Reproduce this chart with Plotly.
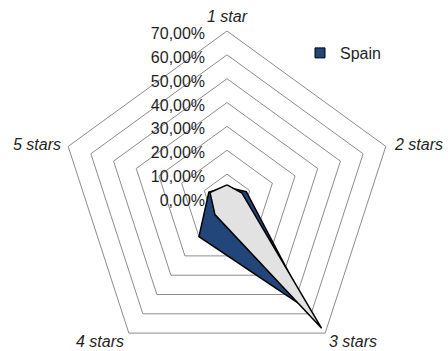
import math
import plotly.graph_objects as go

# ---- data ----
categories = ["1 star", "2 stars", "3 stars", "4 stars", "5 stars"]
spain = [0.045, 0.085, 0.58, 0.20, 0.08]
other = [0.055, 0.066, 0.675, 0.086, 0.075]
radial_ticks = [0.0, 0.1, 0.2, 0.3, 0.4, 0.5, 0.6, 0.7]

# ---- styles ----
BLUE = "#23467a"
GRAY_FILL = "#e2e2e2"
GRID = "#8c8c8c"
TEXT = "#1f1f1f"
FONT = "Liberation Sans, Arial, sans-serif"

W, H = 448, 370
cx, cy, R = 227, 198, 167  # polar centre / outer radius in pixels (from top-left)

fig = go.Figure()
fig.add_trace(go.Scatterpolar(
    r=spain + spain[:1], theta=categories + categories[:1],
    mode="lines", fill="toself", fillcolor=BLUE,
    line=dict(color="black", width=1.5), name="Spain", showlegend=False,
    hoverinfo="skip",
))
fig.add_trace(go.Scatterpolar(
    r=other + other[:1], theta=categories + categories[:1],
    mode="lines", fill="toself", fillcolor=GRAY_FILL,
    line=dict(color="black", width=1.5), name="Other", showlegend=False,
    hoverinfo="skip",
))
# legend entry (square symbol like the reference)
fig.add_trace(go.Scatterpolar(
    r=[None], theta=[None], mode="markers", name="Spain",
    marker=dict(symbol="square", size=10, color=BLUE, line=dict(color="black", width=1)),
    showlegend=True,
))

# category labels placed just outside each outer vertex (Excel-like placement)
annotations = []
n = len(categories)
for i, cat in enumerate(categories):
    th = math.radians(360 * i / n)
    s, c = math.sin(th), math.cos(th)
    vx, vy = cx + R * s, cy - R * c  # vertex in pixels from top-left
    if abs(s) < 0.1:
        xa, dx, dy = "center", 0, -14.5
    elif c > -0.5:  # side labels
        xa = "left" if s > 0 else "right"
        dx, dy = (7 if s > 0 else -6), -1.5
    else:  # bottom labels
        xa = "left" if s > 0 else "right"
        dx, dy = (2.5 if s > 0 else -3.5), 8.5
    annotations.append(dict(
        text=cat, xref="paper", yref="paper",
        x=(vx + dx) / W, y=1 - (vy + dy) / H,
        xanchor=xa, yanchor="middle", showarrow=False, borderpad=0,
        font=dict(family=FONT, size=16, color=TEXT, style="italic"),
    ))

fig.update_layout(
    width=W, height=H,
    margin=dict(l=0, r=0, t=0, b=0),
    paper_bgcolor="white",
    separators=",.",
    font=dict(family=FONT, size=16, color=TEXT),
    annotations=annotations,
    polar=dict(
        domain=dict(x=[(cx - R) / W, (cx + R) / W], y=[(H - cy - R) / H, (H - cy + R) / H]),
        gridshape="linear",
        bgcolor="white",
        angularaxis=dict(
            rotation=90, direction="clockwise", showgrid=False,
            showline=True, linecolor=GRID, linewidth=1, ticks="",
            showticklabels=False,
        ),
        radialaxis=dict(
            range=[0, 0.7], tickvals=radial_ticks, tickformat=".2%",
            angle=90, side="counterclockwise", showline=False,
            showgrid=True, gridcolor=GRID, gridwidth=1,
            ticks="outside", ticklen=7, tickcolor="rgba(0,0,0,0)",
            tickfont=dict(family=FONT, size=16, color=TEXT),
        ),
    ),
    legend=dict(
        x=300 / W, xanchor="left", y=1 - 53 / H, yanchor="middle",
        bgcolor="rgba(0,0,0,0)", font=dict(family=FONT, size=16, color=TEXT),
    ),
)

fig.write_html(
    "out.html",
    post_script="document.documentElement.style.overflow='hidden';document.body.style.overflow='hidden';",
)
